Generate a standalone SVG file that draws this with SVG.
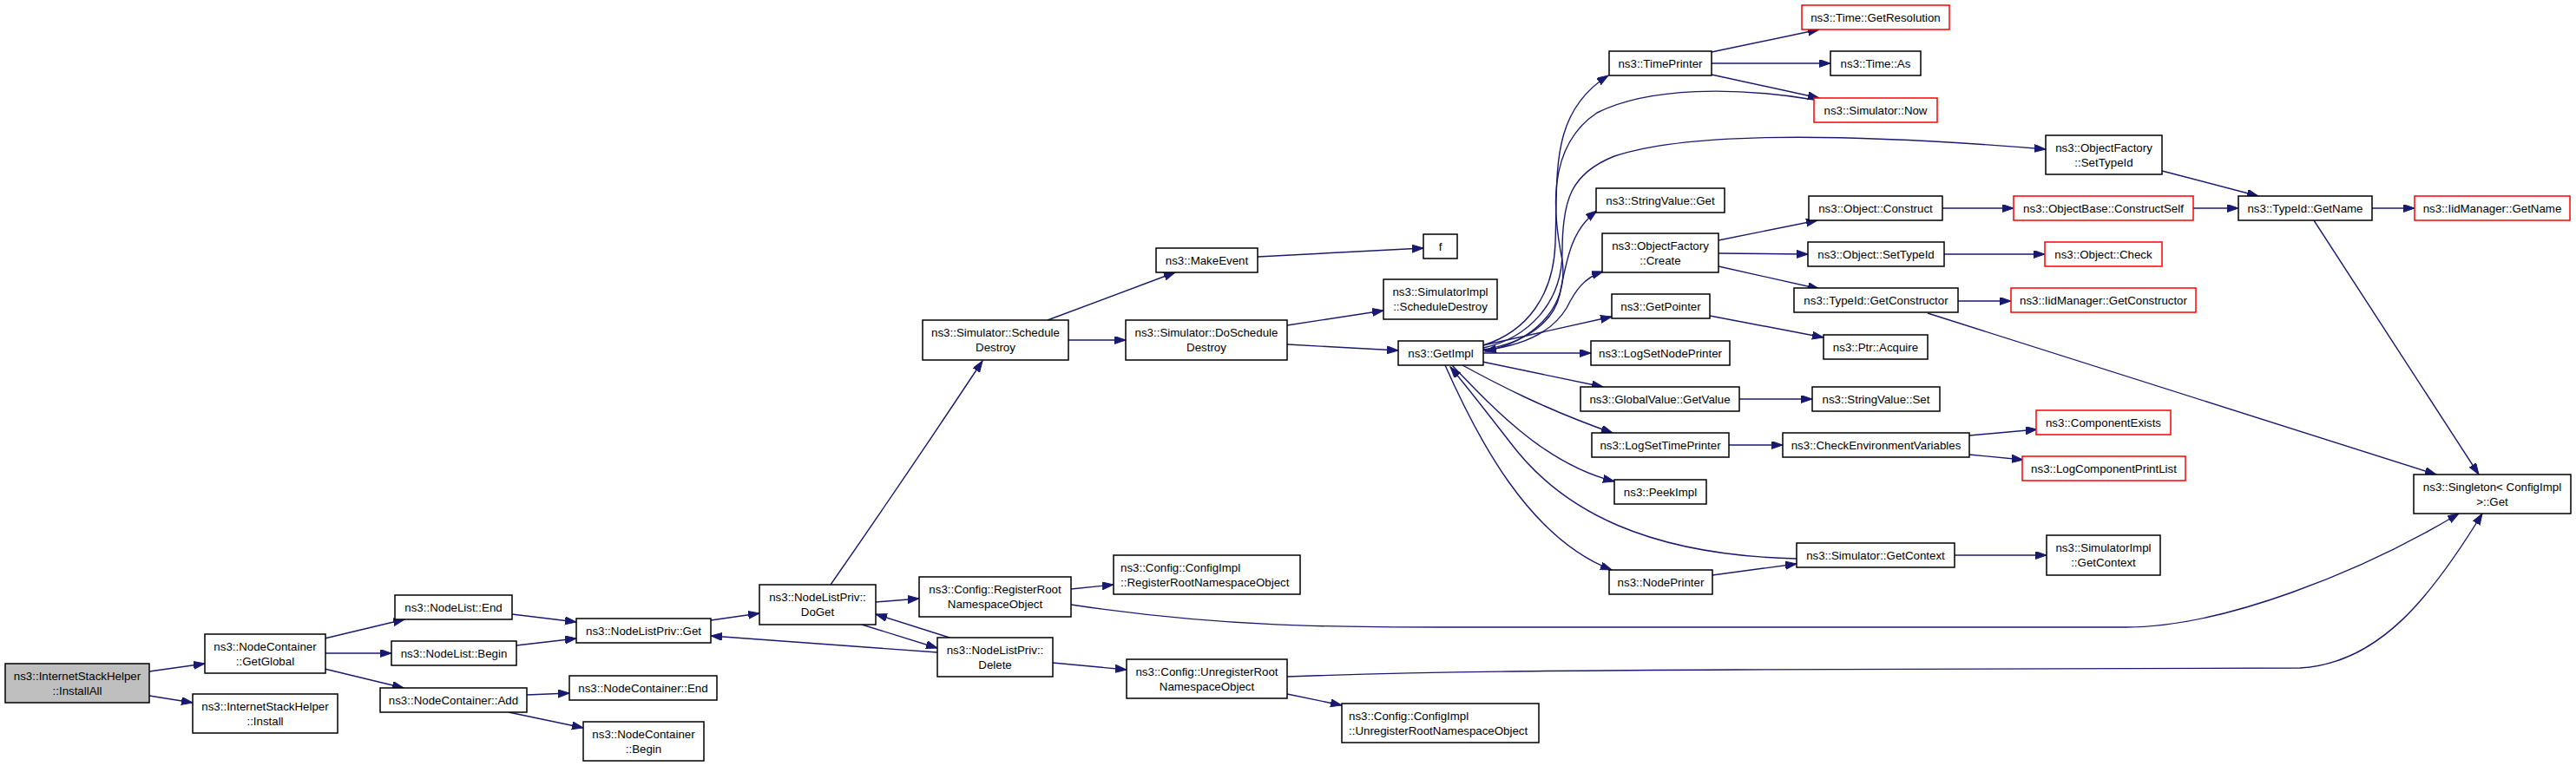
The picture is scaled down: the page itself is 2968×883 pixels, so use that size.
<svg xmlns="http://www.w3.org/2000/svg" width="2968" height="883" viewBox="0 0 2968 883">
<style>
rect{fill:#fff;stroke:#000;stroke-width:1.5}
rect.red{stroke:#ff0000}
rect.root{fill:#bfbfbf}
text{font-family:"Liberation Sans",Arial,sans-serif;font-size:13.3px;fill:#000;text-anchor:middle}
text.l{text-anchor:start}
#edges path{fill:none;stroke:#191970;stroke-width:1.4;marker-end:url(#arr)}
</style>
<defs>
<marker id="arr" markerUnits="userSpaceOnUse" markerWidth="14" markerHeight="10" refX="13" refY="4.5" orient="auto">
<path d="M0,0 L13,4.5 L0,9 z" fill="#191970" stroke="#191970" stroke-width="1"/>
</marker>
</defs>
<rect x="0" y="0" width="2968" height="883" style="fill:#fff;stroke:none"/>
<g id="edges">
<path d="M172,774 L236,765"/>
<path d="M172,802 L222,810"/>
<path d="M374,736 L466,714"/>
<path d="M375,753 L451,753"/>
<path d="M374,771 L465,793"/>
<path d="M590,708 L664,717"/>
<path d="M595,744 L664,736"/>
<path d="M607,801 L656,799"/>
<path d="M586,821 L672,839"/>
<path d="M819,715 L875,707"/>
<path d="M1080,752 L819,733"/>
<path d="M957,674 Q1050,540 1132,416"/>
<path d="M1009,694 L1059,690"/>
<path d="M993,720 L1080,747"/>
<path d="M1094,735 L1009,708"/>
<path d="M1213,764 L1298,772"/>
<path d="M1207,369 L1354,314"/>
<path d="M1231,392 L1297,392"/>
<path d="M1449,296 L1640,286"/>
<path d="M1483,375 L1594,358"/>
<path d="M1483,397 L1611,404"/>
<path d="M1234,679 L1283,674"/>
<path d="M1234,697 C1420,725 1560,723 1700,723 L2450,723 C2560,723 2720,660 2833,592"/>
<path d="M1483,800 L1546,813"/>
<path d="M1483,780 C1650,774 1800,773 2000,772 L2650,770 C2740,765 2800,690 2860,592"/>
<path d="M1709,398 C1760,382 1790,340 1792,280 C1795,200 1785,130 1853,87"/>
<path d="M2090,115 C2000,100 1900,100 1840,130 C1780,170 1790,250 1800,300 C1808,360 1760,395 1711,405"/>
<path d="M1709,401 C1760,390 1800,350 1800,290 C1800,230 1810,200 1860,180 C1950,150 2150,155 2357,172"/>
<path d="M1709,403 C1760,395 1790,370 1797,340 C1805,300 1810,265 1840,243"/>
<path d="M1709,404 C1760,398 1790,380 1805,355 C1815,335 1825,320 1847,313"/>
<path d="M1709,398 L1857,365"/>
<path d="M1709,407 L1833,407"/>
<path d="M1708,417 L1847,446"/>
<path d="M1685,421 C1720,440 1780,472 1858,499"/>
<path d="M1673,421 C1720,470 1780,535 1860,555"/>
<path d="M1665,421 C1700,500 1760,620 1857,657"/>
<path d="M2070,644 C1900,640 1800,590 1740,510 C1705,465 1688,443 1671,423"/>
<path d="M1972,60 L2096,34"/>
<path d="M1972,73 L2109,73"/>
<path d="M1972,86 L2096,113"/>
<path d="M1980,277 L2094,254"/>
<path d="M1980,292 L2083,293"/>
<path d="M1980,307 L2096,333"/>
<path d="M2238,240 L2320,240"/>
<path d="M2240,293 L2356,293"/>
<path d="M2256,347 L2317,347"/>
<path d="M2221,361 L2807,547"/>
<path d="M2491,197 L2602,226"/>
<path d="M2527,240 L2579,240"/>
<path d="M2733,240 L2782,240"/>
<path d="M2666,254 L2856,547"/>
<path d="M1970,364 L2101,389"/>
<path d="M2004,460 L2088,460"/>
<path d="M1992,513 L2054,513"/>
<path d="M2269,502 L2347,495"/>
<path d="M2269,524 L2331,530"/>
<path d="M2252,640 L2358,640"/>
<path d="M1973,663 L2070,650"/>
</g>
<g id="n1"><rect class="root" x="6" y="765" width="166" height="45"/><text x="89" y="784">ns3::InternetStackHelper</text><text x="89" y="801">::InstallAll</text></g>
<g id="n2"><rect x="236" y="731" width="139" height="45"/><text x="305.5" y="750">ns3::NodeContainer</text><text x="305.5" y="767">::GetGlobal</text></g>
<g id="n3"><rect x="222" y="800" width="167" height="45"/><text x="305.5" y="819">ns3::InternetStackHelper</text><text x="305.5" y="836">::Install</text></g>
<g id="n4"><rect x="455" y="686" width="135" height="28"/><text x="522.5" y="705">ns3::NodeList::End</text></g>
<g id="n5"><rect x="451" y="739" width="144" height="28"/><text x="523" y="758">ns3::NodeList::Begin</text></g>
<g id="n6"><rect x="438" y="793" width="169" height="28"/><text x="522.5" y="812">ns3::NodeContainer::Add</text></g>
<g id="n7"><rect x="664" y="713" width="155" height="28"/><text x="741.5" y="732">ns3::NodeListPriv::Get</text></g>
<g id="n8"><rect x="656" y="779" width="170" height="28"/><text x="741" y="798">ns3::NodeContainer::End</text></g>
<g id="n9"><rect x="672" y="832" width="139" height="45"/><text x="741.5" y="851">ns3::NodeContainer</text><text x="741.5" y="868">::Begin</text></g>
<g id="n10"><rect x="875" y="674" width="134" height="46"/><text x="942" y="693">ns3::NodeListPriv::</text><text x="942" y="710">DoGet</text></g>
<g id="n11"><rect x="1063" y="369" width="168" height="46"/><text x="1147" y="388">ns3::Simulator::Schedule</text><text x="1147" y="405">Destroy</text></g>
<g id="n12"><rect x="1059" y="665" width="175" height="46"/><text x="1146.5" y="684">ns3::Config::RegisterRoot</text><text x="1146.5" y="701">NamespaceObject</text></g>
<g id="n13"><rect x="1080" y="735" width="133" height="45"/><text x="1146.5" y="754">ns3::NodeListPriv::</text><text x="1146.5" y="771">Delete</text></g>
<g id="n14"><rect x="1332" y="286" width="117" height="28"/><text x="1390.5" y="305">ns3::MakeEvent</text></g>
<g id="n15"><rect x="1297" y="369" width="186" height="46"/><text x="1390" y="388">ns3::Simulator::DoSchedule</text><text x="1390" y="405">Destroy</text></g>
<g id="n16"><rect x="1283" y="640" width="215" height="45"/><text class="l" x="1291" y="659">ns3::Config::ConfigImpl</text><text class="l" x="1291" y="676">::RegisterRootNamespaceObject</text></g>
<g id="n17"><rect x="1298" y="760" width="185" height="45"/><text x="1390.5" y="779">ns3::Config::UnregisterRoot</text><text x="1390.5" y="796">NamespaceObject</text></g>
<g id="n18"><rect x="1546" y="811" width="227" height="45"/><text class="l" x="1554" y="830">ns3::Config::ConfigImpl</text><text class="l" x="1554" y="847">::UnregisterRootNamespaceObject</text></g>
<g id="n19"><rect x="1640" y="270" width="39" height="28"/><text x="1659.5" y="289">f</text></g>
<g id="n20"><rect x="1594" y="322" width="131" height="46"/><text x="1659.5" y="341">ns3::SimulatorImpl</text><text x="1659.5" y="358">::ScheduleDestroy</text></g>
<g id="n21"><rect x="1611" y="393" width="98" height="28"/><text x="1660" y="412">ns3::GetImpl</text></g>
<g id="n22"><rect x="1854" y="59" width="118" height="28"/><text x="1913" y="78">ns3::TimePrinter</text></g>
<g id="n23"><rect x="1839" y="217" width="148" height="28"/><text x="1913" y="236">ns3::StringValue::Get</text></g>
<g id="n24"><rect x="1846" y="269" width="134" height="45"/><text x="1913" y="288">ns3::ObjectFactory</text><text x="1913" y="305">::Create</text></g>
<g id="n25"><rect x="1857" y="339" width="113" height="28"/><text x="1913.5" y="358">ns3::GetPointer</text></g>
<g id="n26"><rect x="1833" y="393" width="160" height="28"/><text x="1913" y="412">ns3::LogSetNodePrinter</text></g>
<g id="n27"><rect x="1821" y="446" width="183" height="28"/><text x="1912.5" y="465">ns3::GlobalValue::GetValue</text></g>
<g id="n28"><rect x="1834" y="499" width="158" height="28"/><text x="1913" y="518">ns3::LogSetTimePrinter</text></g>
<g id="n29"><rect x="1860" y="553" width="106" height="28"/><text x="1913" y="572">ns3::PeekImpl</text></g>
<g id="n30"><rect x="1854" y="657" width="119" height="28"/><text x="1913.5" y="676">ns3::NodePrinter</text></g>
<g id="n31"><rect class="red" x="2076" y="6" width="170" height="28"/><text x="2161" y="25">ns3::Time::GetResolution</text></g>
<g id="n32"><rect x="2109" y="59" width="104" height="28"/><text x="2161" y="78">ns3::Time::As</text></g>
<g id="n33"><rect class="red" x="2090" y="113" width="142" height="28"/><text x="2161" y="132">ns3::Simulator::Now</text></g>
<g id="n34"><rect x="2084" y="226" width="154" height="28"/><text x="2161" y="245">ns3::Object::Construct</text></g>
<g id="n35"><rect x="2083" y="279" width="157" height="28"/><text x="2161.5" y="298">ns3::Object::SetTypeId</text></g>
<g id="n36"><rect x="2067" y="332" width="189" height="28"/><text x="2161.5" y="351">ns3::TypeId::GetConstructor</text></g>
<g id="n37"><rect x="2101" y="386" width="120" height="28"/><text x="2161" y="405">ns3::Ptr::Acquire</text></g>
<g id="n38"><rect x="2088" y="446" width="147" height="28"/><text x="2161.5" y="465">ns3::StringValue::Set</text></g>
<g id="n39"><rect x="2054" y="499" width="215" height="28"/><text x="2161.5" y="518">ns3::CheckEnvironmentVariables</text></g>
<g id="n40"><rect x="2070" y="626" width="182" height="28"/><text x="2161" y="645">ns3::Simulator::GetContext</text></g>
<g id="n41"><rect x="2357" y="156" width="134" height="45"/><text x="2424" y="175">ns3::ObjectFactory</text><text x="2424" y="192">::SetTypeId</text></g>
<g id="n42"><rect class="red" x="2320" y="226" width="207" height="28"/><text x="2423.5" y="245">ns3::ObjectBase::ConstructSelf</text></g>
<g id="n43"><rect class="red" x="2356" y="279" width="135" height="28"/><text x="2423.5" y="298">ns3::Object::Check</text></g>
<g id="n44"><rect class="red" x="2317" y="332" width="213" height="28"/><text x="2423.5" y="351">ns3::IidManager::GetConstructor</text></g>
<g id="n45"><rect class="red" x="2346" y="473" width="155" height="28"/><text x="2423.5" y="492">ns3::ComponentExists</text></g>
<g id="n46"><rect class="red" x="2330" y="526" width="188" height="28"/><text x="2424" y="545">ns3::LogComponentPrintList</text></g>
<g id="n47"><rect x="2358" y="617" width="131" height="46"/><text x="2423.5" y="636">ns3::SimulatorImpl</text><text x="2423.5" y="653">::GetContext</text></g>
<g id="n48"><rect x="2579" y="226" width="154" height="28"/><text x="2656" y="245">ns3::TypeId::GetName</text></g>
<g id="n49"><rect class="red" x="2782" y="226" width="179" height="28"/><text x="2871.5" y="245">ns3::IidManager::GetName</text></g>
<g id="n50"><rect x="2781" y="547" width="181" height="45"/><text x="2871.5" y="566">ns3::Singleton&lt; ConfigImpl</text><text x="2871.5" y="583">&gt;::Get</text></g>
</svg>
